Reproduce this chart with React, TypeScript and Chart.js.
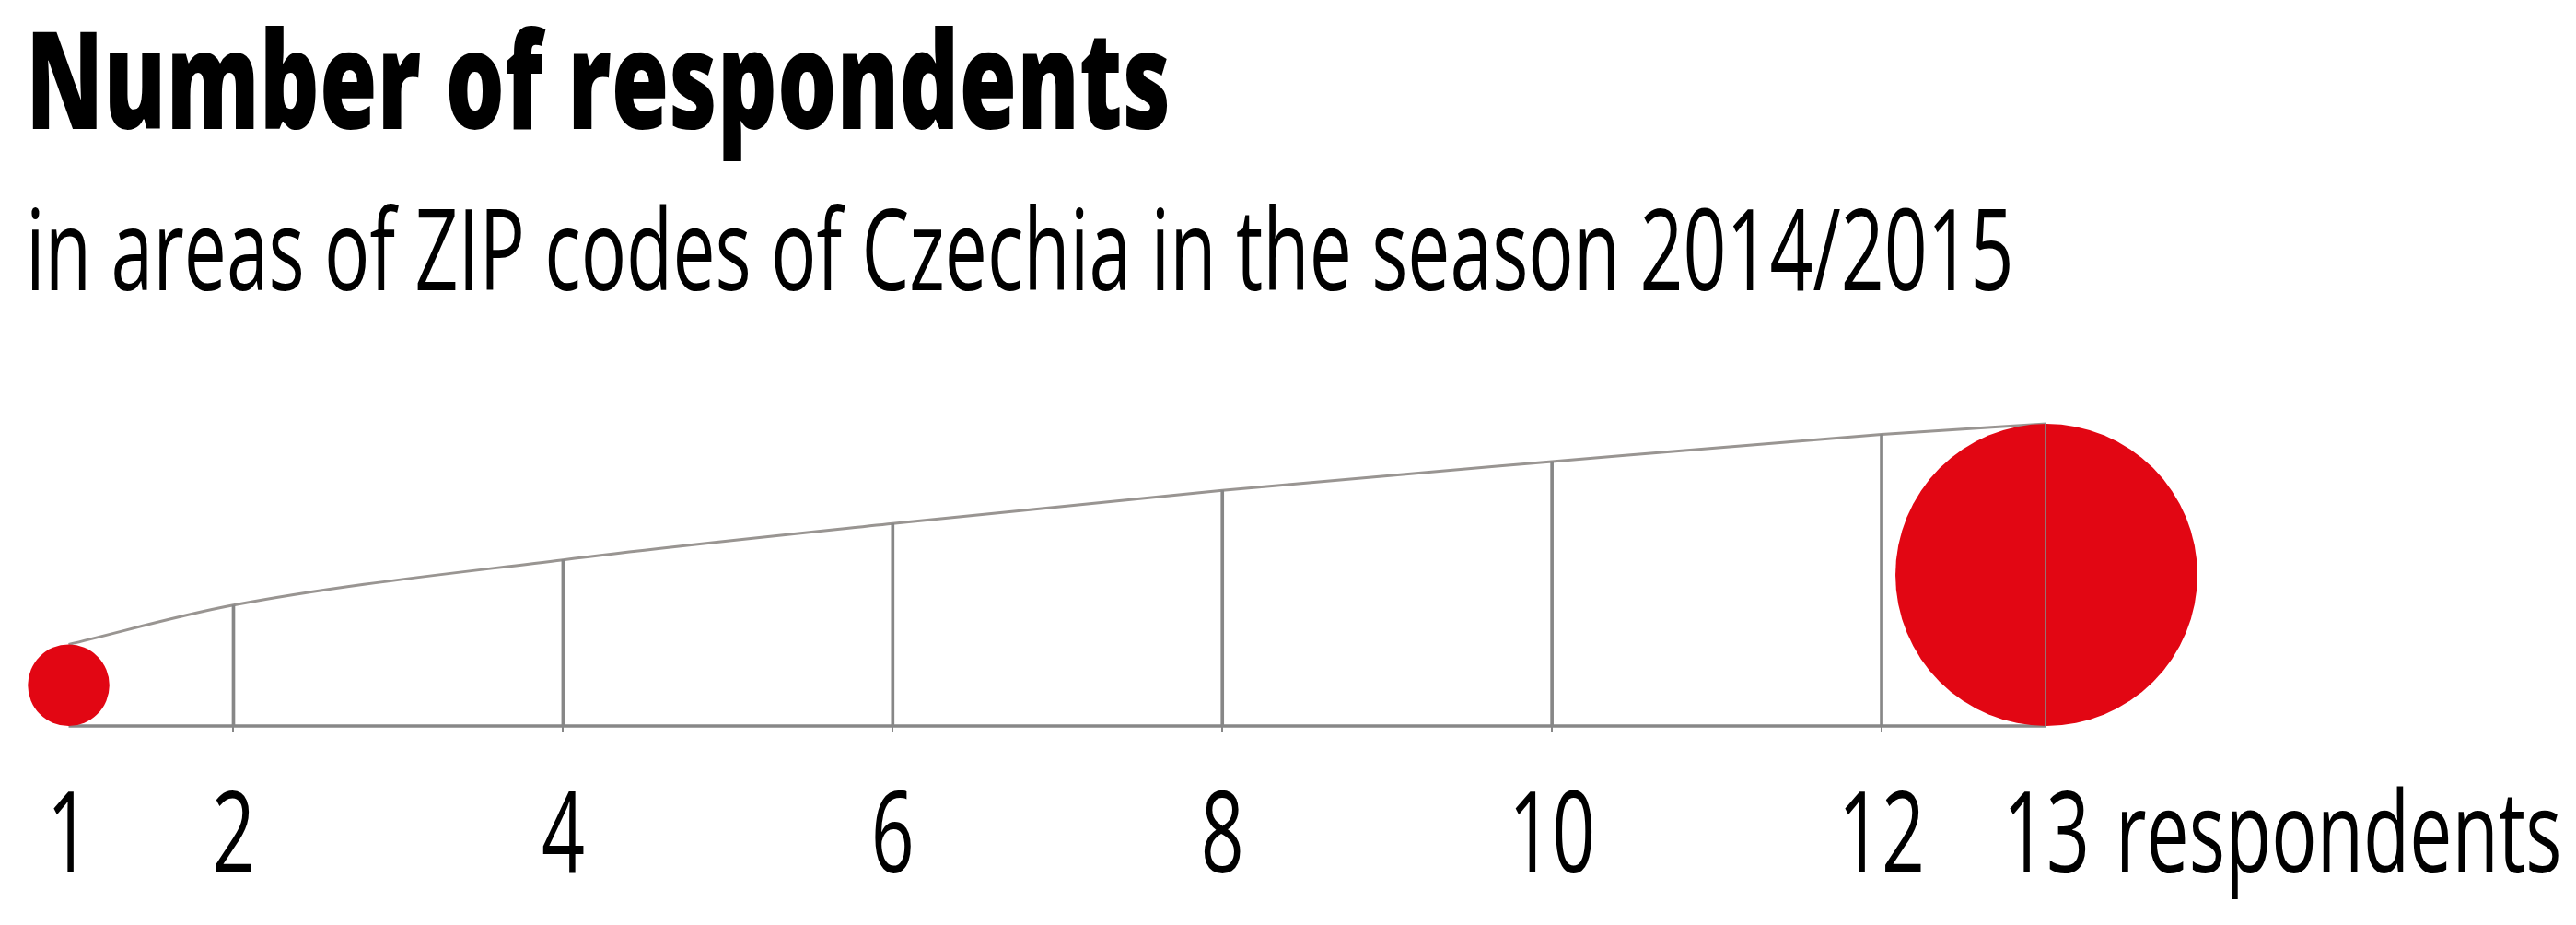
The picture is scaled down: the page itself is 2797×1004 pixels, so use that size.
import React, { useEffect, useRef } from 'react';
import { Chart, registerables } from 'chart.js';

Chart.register(...registerables);

// ---- data -------------------------------------------------------------
const TITLE = 'Number of respondents';
const SUBTITLE = 'in areas of ZIP codes of Czechia in the season 2014/2015';
const UNIT_LABEL = 'respondents';

const respondentCounts = [1, 2, 4, 6, 8, 10, 12, 13];
const tickLabels = ['1', '2', '4', '6', '8', '10', '12', '13'];
// circle diameter for each count, relative to the largest circle
const relativeDiameter = [0.27, 0.4, 0.55, 0.67, 0.78, 0.875, 0.965, 1.0];
// counts that get a drawn circle
const circleCounts = [1, 13];
// counts that get a vertical guide line
const guideCounts = [2, 4, 6, 8, 10, 12, 13];

// ---- style ------------------------------------------------------------
const RED = '#e20613';
const GRAY = '#878787';
const CURVE = '#999592';
const FONT = "'Open Sans', 'Noto Sans', sans-serif";
const TITLE_SIZE = 147;
const TEXT_SIZE = 122;
const TEXT_WEIGHT = '500';
const TITLE_INK_WIDTH = 1232;
const SUBTITLE_INK_WIDTH = 2148;
const TICK_MARK = 7;
const LABEL_GAP = 56.3;

const diameterOf = (count: number) => relativeDiameter[respondentCounts.indexOf(count)];

const condensedTextPlugin = {
  id: 'condensedText',
  beforeDraw(chart: any) {
    const ctx = chart.ctx as CanvasRenderingContext2D;
    ctx.save();
    ctx.font = `800 ${TITLE_SIZE}px ${FONT}`;
    let m = ctx.measureText(TITLE);
    const sxBold = TITLE_INK_WIDTH / (m.actualBoundingBoxLeft + m.actualBoundingBoxRight);
    ctx.font = `${TEXT_WEIGHT} ${TEXT_SIZE}px ${FONT}`;
    m = ctx.measureText(SUBTITLE);
    const sxReg = SUBTITLE_INK_WIDTH / (m.actualBoundingBoxLeft + m.actualBoundingBoxRight);
    ctx.restore();
    const orig = CanvasRenderingContext2D.prototype.fillText;
    (ctx as any).fillText = function (text: string, x: number, y: number) {
      const sx = /\b(bold|[6-9]00)\b/.test(this.font) ? sxBold : sxReg;
      this.save();
      this.translate(x, y);
      this.scale(sx, 1);
      orig.call(this, text, 0, 0);
      this.restore();
    };
  },
  afterDraw(chart: any) {
    const ctx = chart.ctx as CanvasRenderingContext2D;
    const xs = chart.scales.x;
    const tOpts = xs.options.ticks;
    const lh = TEXT_SIZE;
    const midY = xs.top + xs.options.grid.tickLength + tOpts.padding + lh / 2;
    const x = xs.getPixelForValue(respondentCounts[respondentCounts.length - 1]) + 75;
    ctx.save();
    ctx.font = `${TEXT_WEIGHT} ${TEXT_SIZE}px ${FONT}`;
    ctx.fillStyle = '#000';
    ctx.textAlign = 'left';
    ctx.textBaseline = 'middle';
    ctx.fillText(UNIT_LABEL, x, midY);
    ctx.restore();
    delete (ctx as any).fillText;
  },
};

export default function App() {
  const ref = useRef<HTMLCanvasElement>(null);

  useEffect(() => {
    const canvas = ref.current;
    if (!canvas) return;
    const first = respondentCounts[0];
    const last = respondentCounts[respondentCounts.length - 1];

    const circleRadius = (c: any) => {
      const ys = c.chart.scales.y;
      if (!ys || !c.raw) return 0;
      const r = (ys.getPixelForValue(0) - ys.getPixelForValue(c.raw.y * 2)) / 2;
      return isFinite(r) && r > 0 ? r : 0;
    };

    const chart = new Chart(canvas, {
      type: 'scatter',
      data: {
        datasets: [
          {
            type: 'bar',
            data: guideCounts.map((v) => ({ x: v, y: diameterOf(v) })),
            backgroundColor: GRAY,
            barThickness: 3,
            order: 0,
          } as any,
          {
            type: 'scatter',
            data: circleCounts.map((v) => ({ x: v, y: diameterOf(v) / 2 })),
            showLine: false,
            pointBackgroundColor: RED,
            pointBorderWidth: 0,
            pointBorderColor: RED,
            pointRadius: circleRadius,
            pointHoverRadius: circleRadius,
            clip: false,
            order: 1,
          } as any,
          {
            type: 'line',
            data: [
              { x: first, y: 0 },
              { x: last, y: 0 },
            ],
            borderColor: GRAY,
            borderWidth: 3.5,
            pointRadius: 0,
            clip: false,
            order: 2,
          } as any,
          {
            type: 'line',
            data: respondentCounts.map((v, i) => ({ x: v, y: relativeDiameter[i] })),
            borderColor: CURVE,
            borderWidth: 3,
            pointRadius: 0,
            cubicInterpolationMode: 'monotone',
            clip: false,
            order: 3,
          } as any,
        ],
      },
      options: {
        animation: false,
        responsive: false,
        devicePixelRatio: 1,
        events: [],
        layout: { padding: { left: 28, right: 575, top: 0, bottom: 30.7 } },
        plugins: {
          legend: { display: false },
          tooltip: { enabled: false },
          title: {
            display: true,
            text: TITLE,
            align: 'start',
            color: '#000',
            font: { family: FONT, size: TITLE_SIZE, weight: '800' as any, lineHeight: 1 },
            padding: { top: 24.5, bottom: 0 },
          },
          subtitle: {
            display: true,
            text: SUBTITLE,
            align: 'start',
            color: '#000',
            font: { family: FONT, size: TEXT_SIZE, weight: TEXT_WEIGHT as any, lineHeight: 1 },
            padding: { top: 47.6, bottom: 53.4 },
          },
        },
        scales: {
          x: {
            type: 'linear',
            min: 0.74,
            max: 13,
            offset: false,
            afterBuildTicks: (s: any) => {
              s.ticks = respondentCounts.map((v) => ({ value: v }));
            },
            ticks: {
              autoSkip: false,
              maxRotation: 0,
              minRotation: 0,
              padding: 0,
              color: '#000',
              font: { family: FONT, size: TEXT_SIZE, weight: TEXT_WEIGHT as any, lineHeight: 1 },
              callback: (_v: any, i: number) => tickLabels[i],
            },
            grid: {
              offset: false,
              drawOnChartArea: false,
              drawTicks: true,
              tickLength: TICK_MARK + LABEL_GAP,
              tickBorderDash: [TICK_MARK, 400],
              lineWidth: 2,
              color: (c: any) =>
                c.tick && (c.tick.value === first || c.tick.value === last) ? 'rgba(0,0,0,0)' : GRAY,
            },
            border: { display: false },
          },
          y: {
            type: 'linear',
            display: false,
            min: 0,
            max: 1.2,
          },
        },
      } as any,
      plugins: [condensedTextPlugin],
    });

    return () => chart.destroy();
  }, []);

  return (
    <div style={{ position: 'fixed', left: 0, top: 0, width: 2797, height: 1004, background: '#fff' }}>
      <canvas ref={ref} width={2797} height={1004} style={{ display: 'block', width: 2797, height: 1004 }} />
    </div>
  );
}
